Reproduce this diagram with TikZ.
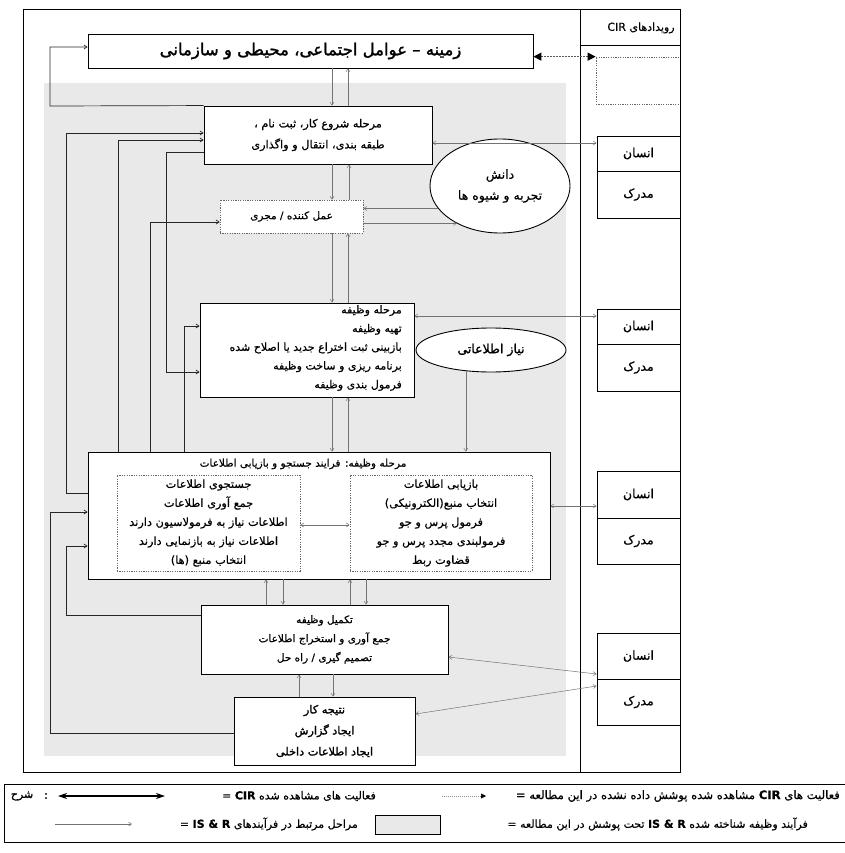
\documentclass[tikz,border=0pt]{standalone}
\usepackage{fontspec}
\setmainfont{Liberation Serif}
\newfontfamily\fa[Script=Arabic,FakeBold=0.5]{DejaVu Sans}
\newfontfamily\fab[Script=Arabic,FakeBold=1.5]{DejaVu Sans}
\TeXXeTstate=1
\usetikzlibrary{arrows.meta,shapes.geometric,calc}
\newcommand{\rl}[1]{\beginR#1\endR}
\newcommand{\lt}[1]{\beginL#1\endL{}}
\tikzset{
 box/.style={draw=black, line width=0.9pt, fill=white, inner sep=0pt},
 dbox/.style={draw=black!60, dash pattern=on 1.2pt off 1.2pt, line width=0.7pt, fill=white, inner sep=0pt},
 ell/.style={draw=black, ellipse, line width=0.9pt, fill=white, inner sep=0pt},
 arr/.style={draw=black!55, line width=0.5pt, -{Straight Barb[length=3pt,width=4pt]}},
 darr/.style={draw=black!55, line width=0.5pt, {Straight Barb[length=3pt,width=4pt]}-{Straight Barb[length=3pt,width=4pt]}},
 fba/.style={draw=black!85, line width=0.7pt, -{Straight Barb[length=3pt,width=4pt]}},
 cell/.style={draw=black, line width=0.9pt, minimum width=83pt, inner sep=0pt, font=\fa\fontsize{12.5}{14}\selectfont},
 lgtxt/.style={inner sep=0pt, font=\fa\fontsize{11}{12}\selectfont},
 dotarr/.style={draw=black!65, line width=1.2pt, dash pattern=on 1.5pt off 1.5pt, {Triangle[length=8pt,width=8pt,color=black,fill=black]}-{Triangle[length=8pt,width=8pt,color=black,fill=black]}},
 dotarrone/.style={draw=black!45, line width=0.6pt, dash pattern=on 1pt off 1pt, -{Triangle[length=5pt,width=5pt,color=black,fill=black]}},
 thickarr/.style={draw=black, line width=1.6pt, {Stealth[length=9pt,width=6pt]}-{Stealth[length=9pt,width=6pt]}},
}
\begin{document}
\begin{tikzpicture}[x=1pt,y=-1pt]
\useasboundingbox (0,0) rectangle (844,853);
% gray region
\fill[gray!17] (44,83) rectangle (566,756);
% frame
\draw[line width=1pt] (23,10) rectangle (680,772);
\draw[line width=1pt] (580,10) -- (580,772);
\draw[line width=1pt] (580,46) -- (680,46);
\node[font=\fa\fontsize{11}{12}\selectfont] (hdr) at (641,28) {\rl{رویدادهای \lt{CIR}}};
\node[dbox, minimum width=84pt, minimum height=47pt] (dotb) at (638,80.5) {};
\draw[line width=1pt] (680,46) -- (680,772);
% top box
\node[box, minimum width=445pt, minimum height=34pt, font=\fab\fontsize{16.5}{18}\selectfont] (zam) at (310.5,51) {\rl{زمینه – عوامل اجتماعی، محیطی و سازمانی}};
\draw[dotarr] (zam.east |- dotb.north) -- (dotb.north west);
% boxes
\node[box, minimum width=228pt, minimum height=58pt, align=center, font=\fa\fontsize{11.3}{21}\selectfont] (b1) at (318,135) {\rl{مرحله شروع کار، ثبت نام ،}\\\rl{طبقه بندی، انتقال و واگذاری}};
\node[dbox, minimum width=143pt, minimum height=33pt, font=\fa\fontsize{10.5}{11}\selectfont] (act) at (291.5,216.5) {\rl{عمل کننده / مجری}};
\node[ell, minimum width=140pt, minimum height=94pt, align=center, font=\fa\fontsize{12.5}{21}\selectfont] (e1) at (500,186) {\rl{دانش}\\\rl{تجربه و شیوه ها}};
\node[box, minimum width=214pt, minimum height=94pt] (b2) at (307,350) {};
\node[anchor=east, align=right, inner sep=0pt, font=\fa\fontsize{11}{18.7}\selectfont] (b2t) at (402,348) {\rl{مرحله وظیفه}\\\rl{تهیه وظیفه}\\\rl{بازبینی ثبت اختراع جدید یا اصلاح شده}\\\rl{برنامه ریزی و ساخت وظیفه}\\\rl{فرمول بندی وظیفه}};
\node[ell, minimum width=150pt, minimum height=44pt, font=\fab\fontsize{12.5}{14}\selectfont] (e2) at (491,350) {\rl{نیاز اطلاعاتی}};
\node[box, minimum width=462pt, minimum height=127pt] (b3) at (319,515.5) {};
\node[inner sep=0pt, font=\fa\fontsize{10.5}{12}\selectfont] (b3t) at (303,464) {\rl{مرحله وظیفه: فرایند جستجو و بازیابی اطلاعات}};
\node[dbox, minimum width=183pt, minimum height=96pt, align=center, font=\fa\fontsize{11.3}{19}\selectfont] (sl) at (208.5,523) {\rl{جستجوی اطلاعات}\\\rl{جمع آوری اطلاعات}\\\rl{اطلاعات نیاز به فرمولاسیون دارند}\\\rl{اطلاعات نیاز به بازنمایی دارند}\\\rl{انتخاب منبع (ها)}};
\node[dbox, minimum width=182pt, minimum height=96pt, align=center, font=\fa\fontsize{11.3}{19}\selectfont] (sr) at (441,523) {\rl{بازیابی اطلاعات}\\\rl{انتخاب منبع(الکترونیکی)}\\\rl{فرمول پرس و جو}\\\rl{فرمولبندی مجدد پرس و جو}\\\rl{قضاوت ربط}};
\draw[darr] (sl.east |- 0,525) -- (sr.west |- 0,525);
\node[box, minimum width=247pt, minimum height=69pt, align=center, font=\fa\fontsize{10.5}{19}\selectfont] (b4) at (324.5,639.5) {\rl{تکمیل وظیفه}\\\rl{جمع آوری و استخراج اطلاعات}\\\rl{تصمیم گیری / راه حل}};
\node[box, minimum width=181pt, minimum height=68pt, align=center, font=\fab\fontsize{11.3}{21}\selectfont] (b5) at (324.5,731) {\rl{نتیجه کار}\\\rl{ایجاد گزارش}\\\rl{ایجاد اطلاعات داخلی}};
% human / document cells
\node[cell, minimum height=35pt] (h1a) at (638.5,153.5) {\rl{انسان}};
\node[cell, minimum height=47pt] (h1b) at (638.5,194.5) {\rl{مدرک}};
\node[cell, minimum height=35pt] (h2a) at (638.5,326.5) {\rl{انسان}};
\node[cell, minimum height=47pt] (h2b) at (638.5,367.5) {\rl{مدرک}};
\node[cell, minimum height=47pt] (h3a) at (638.5,494.5) {\rl{انسان}};
\node[cell, minimum height=46pt] (h3b) at (638.5,541) {\rl{مدرک}};
\node[cell, minimum height=46pt] (h4a) at (638.5,656) {\rl{انسان}};
\node[cell, minimum height=46pt] (h4b) at (638.5,702) {\rl{مدرک}};
% vertical gray arrows
\draw[arr] (zam.south -| 332,0) -- (b1.north -| 332,0);
\draw[arr] (b1.north -| 348,0) -- (zam.south -| 348,0);
\draw[arr] (b1.south -| 332,0) -- (act.north -| 332,0);
\draw[arr] (act.north -| 349,0) -- (b1.south -| 349,0);
\draw[arr] (act.south -| 332,0) -- (b2.north -| 332,0);
\draw[arr] (b2.north -| 348,0) -- (act.south -| 348,0);
\draw[arr] (b2.south -| 332,0) -- (b3.north -| 332,0);
\draw[arr] (b3.north -| 348,0) -- (b2.south -| 348,0);
\draw[arr] (b4.north -| 266,0) -- (b3.south -| 266,0);
\draw[arr] (b3.south -| 283,0) -- (b4.north -| 283,0);
\draw[arr] (b4.north -| 350,0) -- (b3.south -| 350,0);
\draw[arr] (b3.south -| 366,0) -- (b4.north -| 366,0);
\draw[arr] (b5.north -| 299,0) -- (b4.south -| 299,0);
\draw[arr] (b4.south -| 333,0) -- (b5.north -| 333,0);
% ellipse links
\draw[arr] (e1.200) -- (e1.200 -| act.east);
\draw[arr] (e1.221 -| act.east) -- (e1.221);
\draw[arr] (e2.220) -- (e2.220 |- b3.north);
% links to human/document cells
\draw[darr] (b1.east |- 0,143) -- (h1a.west |- 0,143);
\draw[darr] (b2.east |- 0,316) -- (h2a.west |- 0,316);
\draw[darr] (b3.east |- 0,506) -- (h3a.west |- 0,506);
\draw[darr] (b4.east |- 0,657) -- (h4a.west |- 0,674);
\draw[darr] (b5.east |- 0,714) -- (h4b.west |- 0,686);
% left feedback lines
\draw[fba] (b1.north west) -- (50,106) |- (zam.west |- 0,47);
\draw[fba] (b3.west |- 0,493) -| (66,133) -- (b1.west |- 0,133);
\draw[fba] (b3.north -| 118,0) |- (b1.west |- 0,140);
\draw[fba] (b1.west |- 0,152) -| (166,372) -- (b2.west |- 0,372);
\draw[fba] (b3.north -| 150,0) |- (act.west |- 0,222);
\draw[fba] (b3.north -| 184,0) |- (b2.west |- 0,326);
\draw[fba] (b4.west |- 0,615) -| (66,546) -- (b3.west |- 0,546);
\draw[fba] (b5.west |- 0,733) -| (50,512) -- (b3.west |- 0,512);
% legend
\draw[line width=0.9pt] (4,784) rectangle (870,842);
\node[font=\fa\fontsize{11}{13}\selectfont] (lg0) at (22,796) {\rl{شرح}};
\node[font=\fa\fontsize{11}{13}\selectfont] (lgc) at (46,796) {:};
\coordinate (lgA1) at (58,796);
\coordinate (lgA2) at (165,796);
\draw[thickarr] (lgA1) -- (lgA2);
\node[lgtxt, anchor=east] (lg1) at (376,796) {\rl{فعالیت های مشاهده شده \lt{{\bfseries CIR}} =}};
\coordinate (lgD1) at (442,796);
\coordinate (lgD2) at (486,796);
\draw[dotarrone] (lgD1) -- (lgD2);
\node[lgtxt, anchor=east, font=\fa\fontsize{11.6}{12}\selectfont] (lg2) at (840,796) {\rl{فعالیت های \lt{{\bfseries CIR}} مشاهده شده پوشش داده نشده در این مطالعه =}};
\coordinate (lgG1) at (55,824);
\coordinate (lgG2) at (132,824);
\draw[arr] (lgG1) -- (lgG2);
\node[lgtxt, anchor=east] (lg3) at (358,824) {\rl{مراحل مرتبط در فرآیندهای \lt{{\bfseries IS \& R}} =}};
\node[draw, fill=gray!17, line width=0.8pt, minimum width=65pt, minimum height=19pt, inner sep=0pt] (lgbox) at (407.5,824.5) {};
\node[lgtxt, anchor=east] (lg4) at (808,824) {\rl{فرآیند وظیفه شناخته شده \lt{{\bfseries IS \& R}} تحت پوشش در این مطالعه =}};
\end{tikzpicture}
\end{document}
